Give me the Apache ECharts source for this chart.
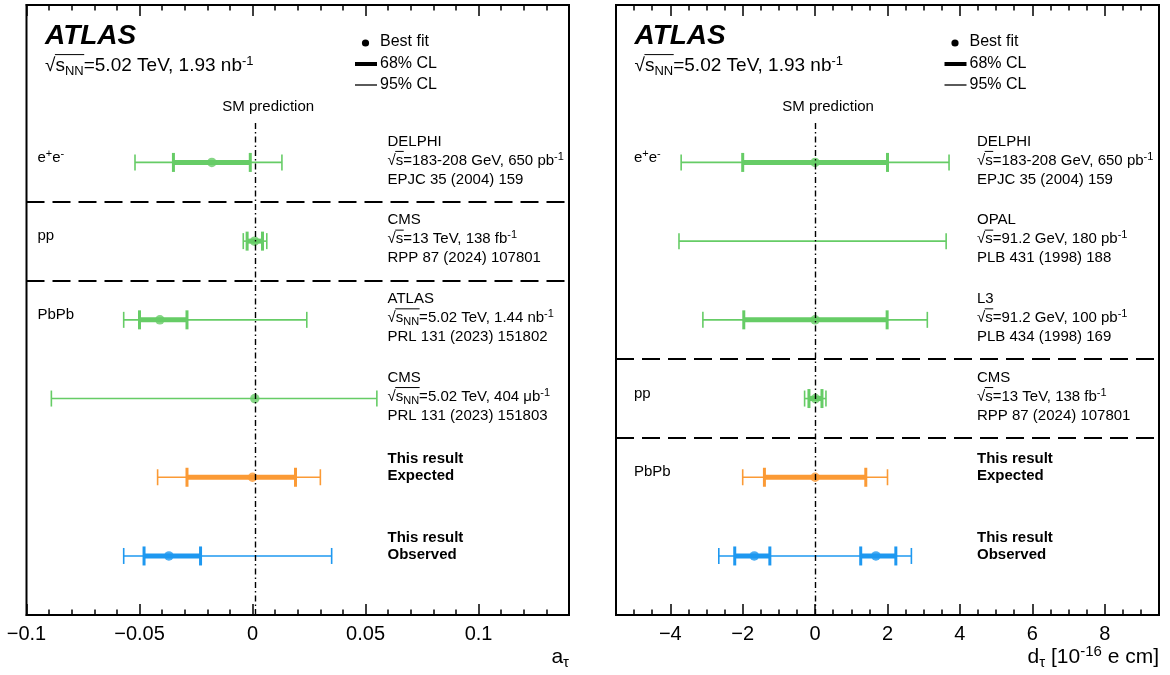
<!DOCTYPE html>
<html>
<head>
<meta charset="utf-8">
<script src="https://cdn.jsdelivr.net/npm/echarts@6/dist/echarts.min.js"></script>
<style>
  html, body { margin: 0; padding: 0; background: #fff; }
  #main { width: 1170px; height: 675px; }
</style>
</head>
<body>
<div id="main"></div>
<script>
const FONT = "'Liberation Sans', Arial, Helvetica, sans-serif";
const GREEN = '#66cc66', ORANGE = '#fb9a35', BLUE = '#1e98f0';

// ---- left panel: a_tau ----
const aRows   = [6, 5, 4, 3, 2, 1];
const aColors = [GREEN, GREEN, GREEN, GREEN, ORANGE, BLUE];
const aBest   = [[-0.018], [0.0009], [-0.041], [0.001], [0.0], [-0.037]];
const aCl68   = [[[-0.035, -0.001]], [[-0.0024, 0.0044]], [[-0.050, -0.029]], [], [[-0.029, 0.019]], [[-0.048, -0.023]]];
const aCl95   = [[-0.052, 0.013], [-0.0041, 0.0063], [-0.057, 0.024], [-0.089, 0.055], [-0.042, 0.030], [-0.057, 0.035]];
const aSM     = 0.00118;
const aRange  = [-0.1, 0.14];
const aMajor  = [-0.1, -0.05, 0, 0.05, 0.1];
const aMinorStep = 0.01;
const aSeparators = [5.5, 4.5];
const aGroups = [[6, 'e^{+}e^{-}'], [5, 'pp'], [4, 'PbPb']];
const aNotes  = [
  [6, ['DELPHI', '√s=183-208 GeV, 650 pb^{-1}', 'EPJC 35 (2004) 159']],
  [5, ['CMS', '√s=13 TeV, 138 fb^{-1}', 'RPP 87 (2024) 107801']],
  [4, ['ATLAS', '√s_{NN}=5.02 TeV, 1.44 nb^{-1}', 'PRL 131 (2023) 151802']],
  [3, ['CMS', '√s_{NN}=5.02 TeV, 404 μb^{-1}', 'PRL 131 (2023) 151803']],
  [2, ['This result', 'Expected']],
  [1, ['This result', 'Observed']]
];

// ---- right panel: d_tau [1e-16 e cm] ----
const dRows   = [6, 5, 4, 3, 2, 1];
const dColors = [GREEN, GREEN, GREEN, GREEN, ORANGE, BLUE];
const dBest   = [[0], [], [0], [0.01], [0], [-1.68, 1.68]];
const dCl68   = [[[-2.0, 2.0]], [], [[-1.97, 1.99]], [[-0.17, 0.19]], [[-1.4, 1.4]], [[-2.22, -1.25], [1.26, 2.23]]];
const dCl95   = [[-3.7, 3.7], [-3.76, 3.62], [-3.1, 3.1], [-0.29, 0.30], [-2.0, 2.0], [-2.66, 2.66]];
const dSM     = 0;
const dRange  = [-5.5, 9.5];
const dMajor  = [-4, -2, 0, 2, 4, 6, 8];
const dMinorStep = 0.5;
const dSeparators = [3.5, 2.5];
const dGroups = [[6, 'e^{+}e^{-}'], [3, 'pp'], [2, 'PbPb']];
const dNotes  = [
  [6, ['DELPHI', '√s=183-208 GeV, 650 pb^{-1}', 'EPJC 35 (2004) 159']],
  [5, ['OPAL', '√s=91.2 GeV, 180 pb^{-1}', 'PLB 431 (1998) 188']],
  [4, ['L3', '√s=91.2 GeV, 100 pb^{-1}', 'PLB 434 (1998) 169']],
  [3, ['CMS', '√s=13 TeV, 138 fb^{-1}', 'RPP 87 (2024) 107801']],
  [2, ['This result', 'Expected']],
  [1, ['This result', 'Observed']]
];

const yRange = [0.25, 8];
const smTop = 6.5;
const grids = [
  { left: 26.5, top: 5, width: 542.5, height: 610 },
  { left: 616, top: 5, width: 543, height: 610 }
];

const chart = echarts.init(document.getElementById('main'));
const measureCtx = document.createElement('canvas').getContext('2d');
function textW(str, size, bold) {
  measureCtx.font = (bold ? 'bold ' : '') + size + 'px ' + FONT;
  return measureCtx.measureText(str).width;
}

// turn "nb^{-1}" / "s_{NN}" into echarts rich text
function toRich(s) {
  let out = '', buf = '', i = 0;
  while (i < s.length) {
    const c = s[i];
    if ((c === '^' || c === '_') && s[i + 1] === '{') {
      const end = s.indexOf('}', i);
      if (buf) { out += '{n|' + buf + '}'; buf = ''; }
      out += '{' + (c === '^' ? 'sp' : 'sb') + '|' + s.slice(i + 2, end) + '}';
      i = end + 1;
    } else { buf += c; i++; }
  }
  if (buf) out += '{n|' + buf + '}';
  return out;
}
function richFor(size, bold, style) {
  const lh = Math.round(size * 1.3);
  const f = (style || '') + ' ' + (bold ? 'bold ' : '') + size + 'px ' + FONT;
  const fs = Math.round(size * 0.7) + 'px ' + FONT;
  return {
    n:  { font: f, lineHeight: lh, fill: '#000' },
    sp: { font: fs, lineHeight: lh, height: lh - 0.5 * size, verticalAlign: 'top', fill: '#000' },
    sb: { font: fs, lineHeight: lh, height: lh - 0.6 * size, verticalAlign: 'bottom', fill: '#000' }
  };
}
function textEl(str, x, y, size, opts) {
  opts = opts || {};
  const els = [{
    type: 'text', silent: true,
    style: { text: toRich(str), rich: richFor(size, opts.bold, opts.style), x: x, y: y,
             align: opts.align || 'left', verticalAlign: 'middle' }
  }];
  if (str[0] === '√') {
    // bar over the radicand, like ROOT's #sqrt
    const w0 = textW('√', size);
    let wr = textW('s', size);
    if (str.indexOf('s_{NN}') === 1) wr += textW('NN', Math.round(size * 0.7));
    els.push({
      type: 'line', silent: true,
      shape: { x1: x + w0 - 0.5, y1: y - 0.6 * size, x2: x + w0 + wr + 0.5, y2: y - 0.6 * size },
      style: { stroke: '#000', lineWidth: 1 }
    });
  }
  return els;
}

function fmtTick(v) { return (v < 0 ? '\u2212' : '') + Math.abs(v); }

function xAxesFor(g, range, major, step) {
  const minor = [];
  for (let k = 0; range[0] + k * step <= range[1] + 1e-9; k++) minor.push(+(range[0] + k * step).toFixed(6));
  const base = { type: 'value', gridIndex: g, min: range[0], max: range[1], splitLine: { show: false } };
  const line = { show: true, lineStyle: { color: '#000', width: 2 } };
  const majTick = { show: true, inside: true, length: 11, customValues: major, lineStyle: { color: '#000', width: 1.5 } };
  const minTick = { show: true, inside: true, length: 5.5, customValues: minor, lineStyle: { color: '#000', width: 1.5 } };
  return [
    Object.assign({}, base, { position: 'bottom', axisLine: line, axisTick: majTick,
      axisLabel: { customValues: major, formatter: fmtTick, fontSize: 20, fontFamily: FONT, color: '#000', margin: 9 } }),
    Object.assign({}, base, { position: 'bottom', axisLine: { show: false }, axisTick: minTick, axisLabel: { show: false } }),
    Object.assign({}, base, { position: 'top', axisLine: line, axisTick: majTick, axisLabel: { show: false } }),
    Object.assign({}, base, { position: 'top', axisLine: { show: false }, axisTick: minTick, axisLabel: { show: false } })
  ];
}
function yAxisFor(g) {
  // frame sides come from the grid border
  return {
    type: 'value', gridIndex: g, min: yRange[0], max: yRange[1], splitLine: { show: false },
    axisLine: { show: false }, axisTick: { show: false }, axisLabel: { show: false }
  };
}

function barRenderer(lw, capH, capW) {
  return function (params, api) {
    const y = api.value(2);
    const p0 = api.coord([api.value(0), y]);
    const p1 = api.coord([api.value(1), y]);
    const color = api.visual('color');
    const cap = (p) => ({ type: 'line', shape: { x1: p[0], y1: p[1] - capH / 2, x2: p[0], y2: p[1] + capH / 2 },
                          style: { stroke: color, lineWidth: capW } });
    return { type: 'group', children: [
      { type: 'line', shape: { x1: p0[0], y1: p0[1], x2: p1[0], y2: p1[1] }, style: { stroke: color, lineWidth: lw } },
      cap(p0), cap(p1)
    ] };
  };
}

function seriesFor(g, rows, colors, best, cl68, cl95, sm, seps) {
  const axes = { xAxisIndex: g * 4, yAxisIndex: g };
  const d95 = [], d68 = [], dBestPts = [];
  rows.forEach((r, i) => {
    d95.push({ value: [cl95[i][0], cl95[i][1], r], itemStyle: { color: colors[i] } });
    cl68[i].forEach(iv => d68.push({ value: [iv[0], iv[1], r], itemStyle: { color: colors[i] } }));
    best[i].forEach(b => dBestPts.push({ value: [b, r], itemStyle: { color: colors[i] } }));
  });
  const marks = seps.map(v => ({ yAxis: v, lineStyle: { color: '#000', width: 2, type: [18, 8] } }));
  marks.push([{ coord: [sm, yRange[0]], lineStyle: { color: '#000', width: 1.4, type: [6, 3, 1.5, 3] } },
              { coord: [sm, smTop] }]);
  return [
    Object.assign({ type: 'custom', name: 'cl95', renderItem: barRenderer(1.6, 16, 1.6),
      encode: { x: [0, 1], y: 2 }, data: d95, z: 2 }, axes),
    Object.assign({ type: 'custom', name: 'cl68', renderItem: barRenderer(5, 19, 3),
      encode: { x: [0, 1], y: 2 }, data: d68, z: 3 }, axes),
    Object.assign({ type: 'scatter', name: 'best', symbol: 'circle', symbolSize: 9.5, data: dBestPts, z: 4,
      markLine: { silent: true, symbol: ['none', 'none'], label: { show: false }, animation: false, data: marks } }, axes)
  ];
}

chart.setOption({
  animation: false,
  grid: grids.map(g => Object.assign({ show: true, borderColor: '#000', borderWidth: 2, backgroundColor: 'transparent',
    outerBoundsMode: 'none', containLabel: false }, g)),
  xAxis: xAxesFor(0, aRange, aMajor, aMinorStep).concat(xAxesFor(1, dRange, dMajor, dMinorStep)),
  yAxis: [yAxisFor(0), yAxisFor(1)],
  series: seriesFor(0, aRows, aColors, aBest, aCl68, aCl95, aSM, aSeparators)
    .concat(seriesFor(1, dRows, dColors, dBest, dCl68, dCl95, dSM, dSeparators))
});

// ---- texts, placed through the axes ----
function panelGraphics(g, groups, notes, sm, xTitle, groupDx) {
  const fl = grids[g].left;
  const px = (x, y) => chart.convertToPixel({ xAxisIndex: g * 4, yAxisIndex: g }, [x, y]);
  let els = [];
  els = els.concat(textEl('ATLAS', fl + 18.5, 36, 28, { bold: true, style: 'italic' }));
  els = els.concat(textEl('√s_{NN}=5.02 TeV, 1.93 nb^{-1}', fl + 18.5, 66, 19));
  // legend
  els.push({ type: 'circle', silent: true, shape: { cx: fl + 339, cy: 43, r: 3.6 }, style: { fill: '#000' } });
  els.push({ type: 'line', silent: true, shape: { x1: fl + 328.5, y1: 64, x2: fl + 350.5, y2: 64 }, style: { stroke: '#000', lineWidth: 4 } });
  els.push({ type: 'line', silent: true, shape: { x1: fl + 328.5, y1: 85, x2: fl + 350.5, y2: 85 }, style: { stroke: '#000', lineWidth: 1.3 } });
  els = els.concat(textEl('Best fit', fl + 353.5, 42, 16));
  els = els.concat(textEl('68% CL', fl + 353.5, 64, 16));
  els = els.concat(textEl('95% CL', fl + 353.5, 85, 16));
  // SM label
  const smP = px(sm, 6.7);
  els = els.concat(textEl('SM prediction', smP[0] + 13, smP[1], 15, { align: 'center' }));
  // group labels
  groups.forEach(([r, t]) => {
    const p = px(0, r);
    els = els.concat(textEl(t, fl + groupDx, p[1] - 5, 15));
  });
  // references
  notes.forEach(([r, lines]) => {
    const p = px(0, r);
    if (lines.length === 3) {
      lines.forEach((t, i) => { els = els.concat(textEl(t, fl + 361, p[1] - 21 + i * 19, 15)); });
    } else {
      lines.forEach((t, i) => { els = els.concat(textEl(t, fl + 361, p[1] - 18 + i * 17, 15, { bold: true })); });
    }
  });
  // axis title
  els = els.concat(textEl(xTitle, fl + grids[g].width, 657, 21, { align: 'right' }));
  return els;
}

chart.setOption({
  graphic: panelGraphics(0, aGroups, aNotes, aSM, 'a_{τ}', 11)
    .concat(panelGraphics(1, dGroups, dNotes, dSM, 'd_{τ} [10^{-16} e cm]', 18))
});
</script>
</body>
</html>
